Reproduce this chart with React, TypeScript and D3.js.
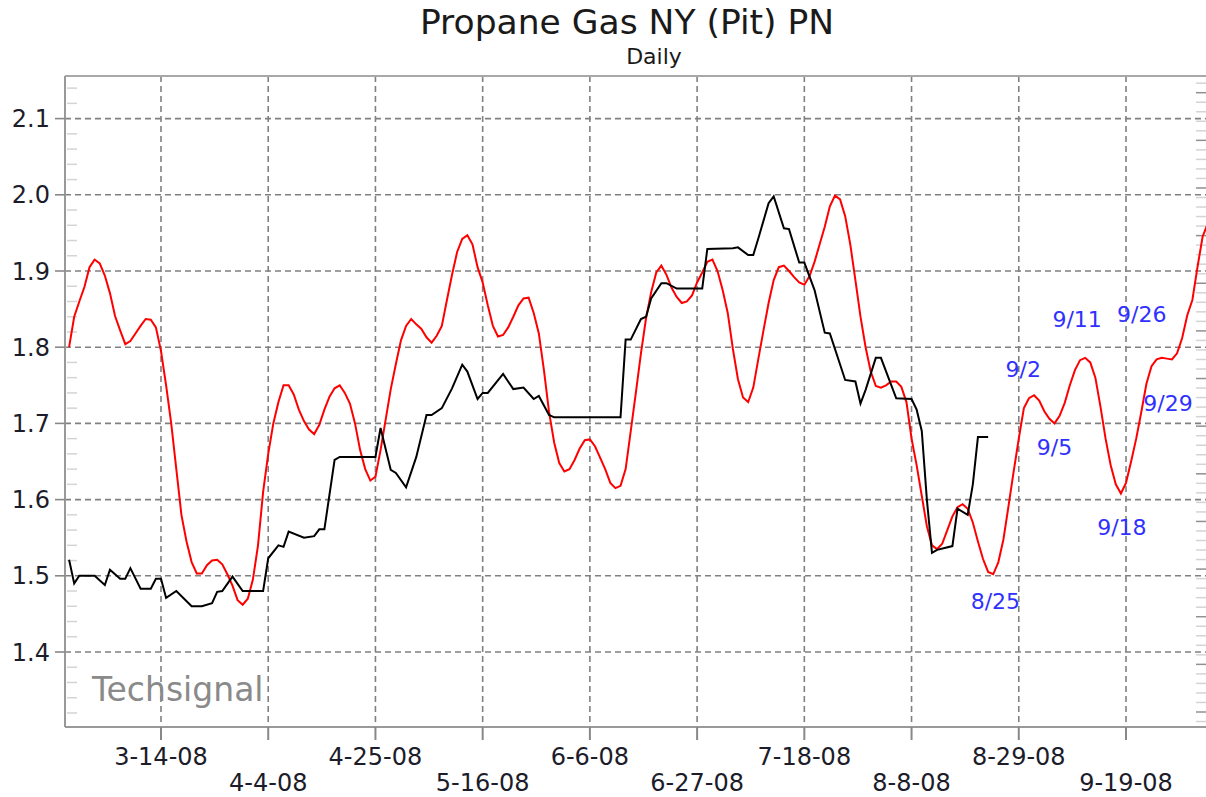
import React, { useEffect, useRef } from "react";
import * as d3 from "d3";

const chartTitle = "Propane Gas NY (Pit) PN";
const chartSubtitle = "Daily";
const watermark = "Techsignal";

// x-axis tick dates (every 3 weeks)
const xTickDates = [
  "2008-03-14", "2008-04-04", "2008-04-25", "2008-05-16", "2008-06-06",
  "2008-06-27", "2008-07-18", "2008-08-08", "2008-08-29", "2008-09-19",
];
const yTicks = [1.4, 1.5, 1.6, 1.7, 1.8, 1.9, 2.0, 2.1];

// black: actual daily price (vertices)
const priceDates = [
  "2008-02-25", "2008-02-26", "2008-02-27", "2008-03-01", "2008-03-03", "2008-03-04",
  "2008-03-06", "2008-03-07", "2008-03-08", "2008-03-10", "2008-03-12", "2008-03-13",
  "2008-03-14", "2008-03-15", "2008-03-17", "2008-03-20", "2008-03-22", "2008-03-24",
  "2008-03-25", "2008-03-26", "2008-03-28", "2008-03-30", "2008-04-03", "2008-04-04",
  "2008-04-06", "2008-04-07", "2008-04-08", "2008-04-11", "2008-04-13", "2008-04-14",
  "2008-04-15", "2008-04-17", "2008-04-18", "2008-04-25", "2008-04-26", "2008-04-28",
  "2008-04-29", "2008-05-01", "2008-05-03", "2008-05-05", "2008-05-06", "2008-05-08",
  "2008-05-10", "2008-05-12", "2008-05-13", "2008-05-15", "2008-05-16", "2008-05-17",
  "2008-05-20", "2008-05-22", "2008-05-24", "2008-05-26", "2008-05-27", "2008-05-29",
  "2008-05-30", "2008-06-12", "2008-06-13", "2008-06-14", "2008-06-16", "2008-06-17",
  "2008-06-18", "2008-06-20", "2008-06-21", "2008-06-23", "2008-06-28", "2008-06-29",
  "2008-07-04", "2008-07-05", "2008-07-07", "2008-07-08", "2008-07-09", "2008-07-11",
  "2008-07-12", "2008-07-14", "2008-07-15", "2008-07-17", "2008-07-18", "2008-07-20",
  "2008-07-22", "2008-07-23", "2008-07-26", "2008-07-28", "2008-07-29", "2008-07-30",
  "2008-08-01", "2008-08-02", "2008-08-05", "2008-08-08", "2008-08-09", "2008-08-10",
  "2008-08-11", "2008-08-12", "2008-08-13", "2008-08-16", "2008-08-17", "2008-08-19",
  "2008-08-20", "2008-08-21", "2008-08-23",
];
const priceValues = [
  1.521, 1.49, 1.5, 1.5, 1.488, 1.508,
  1.496, 1.496, 1.51, 1.483, 1.483, 1.496,
  1.496, 1.471, 1.48, 1.46, 1.46, 1.464,
  1.479, 1.48, 1.499, 1.48, 1.48, 1.523,
  1.54, 1.538, 1.558, 1.55, 1.552, 1.561,
  1.561, 1.652, 1.656, 1.656, 1.694, 1.639,
  1.635, 1.616, 1.656, 1.711, 1.711, 1.72,
  1.746, 1.777, 1.768, 1.732, 1.74, 1.74,
  1.765, 1.745, 1.747, 1.732, 1.736, 1.711,
  1.708, 1.708, 1.81, 1.81, 1.837, 1.84,
  1.864, 1.884, 1.884, 1.877, 1.877, 1.929,
  1.93, 1.931, 1.921, 1.921, 1.943, 1.989,
  1.998, 1.956, 1.955, 1.911, 1.911, 1.875,
  1.819, 1.818, 1.757, 1.755, 1.726, 1.744,
  1.786, 1.786, 1.733, 1.732, 1.718, 1.69,
  1.6, 1.53, 1.534, 1.539, 1.588, 1.58,
  1.62, 1.682, 1.682,
];

// red: cycle projection, one value per calendar day from cycleStart
const cycleStart = "2008-02-25";
const cycleValues = [
  1.8, 1.84, 1.86, 1.879, 1.905, 1.915, 1.91, 1.894, 1.871, 1.841,
  1.822, 1.804, 1.808, 1.818, 1.828, 1.837, 1.836, 1.826, 1.795, 1.75,
  1.7, 1.64, 1.58, 1.545, 1.518, 1.503, 1.503, 1.514, 1.52, 1.521,
  1.515, 1.502, 1.487, 1.468, 1.462, 1.47, 1.495, 1.54, 1.61, 1.66,
  1.7, 1.728, 1.75, 1.75, 1.738, 1.718, 1.703, 1.692, 1.686, 1.698,
  1.718, 1.735, 1.746, 1.75, 1.74, 1.726, 1.7, 1.665, 1.64, 1.625,
  1.63, 1.665, 1.705, 1.745, 1.778, 1.809, 1.828, 1.837, 1.83, 1.824,
  1.813, 1.806, 1.815, 1.828, 1.862, 1.895, 1.925, 1.942, 1.947, 1.935,
  1.905, 1.885, 1.855, 1.828, 1.814, 1.816, 1.826, 1.84, 1.855, 1.864,
  1.865, 1.845, 1.818, 1.77, 1.715, 1.675, 1.648, 1.637, 1.64, 1.652,
  1.667, 1.678, 1.679, 1.67, 1.655, 1.64, 1.622, 1.615, 1.618, 1.64,
  1.69, 1.74, 1.792, 1.838, 1.872, 1.898, 1.907, 1.895, 1.878, 1.866,
  1.858, 1.86, 1.868, 1.885, 1.898, 1.912, 1.915, 1.9, 1.875, 1.845,
  1.798, 1.758, 1.734, 1.728, 1.747, 1.785, 1.822, 1.858, 1.888, 1.905,
  1.907, 1.9, 1.892, 1.885, 1.882, 1.893, 1.912, 1.935, 1.958, 1.985,
  1.999, 1.994, 1.972, 1.935, 1.888, 1.84, 1.8, 1.768, 1.749, 1.747,
  1.75, 1.755, 1.755, 1.748, 1.728, 1.68, 1.645, 1.605, 1.565, 1.54,
  1.535, 1.542, 1.56, 1.578, 1.59, 1.594, 1.588, 1.57, 1.545, 1.522,
  1.505, 1.502, 1.518, 1.548, 1.592, 1.637, 1.68, 1.72, 1.733, 1.737,
  1.73, 1.716, 1.706, 1.7, 1.71, 1.727, 1.75, 1.77, 1.783, 1.786,
  1.78, 1.76, 1.722, 1.68, 1.645, 1.62, 1.608, 1.622, 1.65, 1.68,
  1.715, 1.752, 1.775, 1.784, 1.786, 1.785, 1.784, 1.792, 1.812, 1.842,
  1.862, 1.905, 1.945, 1.962,
];

// turning-point annotations
const turnLabels = ["8/25", "9/2", "9/5", "9/11", "9/18", "9/26", "9/29"];
const turnDates = [
  "2008-08-25", "2008-09-02", "2008-09-05", "2008-09-11",
  "2008-09-18", "2008-09-26", "2008-09-29",
];

export default function App() {
  const ref = useRef<SVGSVGElement>(null);

  useEffect(() => {
    document.body.style.margin = "0";
    const svg = d3.select(ref.current);
    svg.selectAll("*").remove();

    const parse = d3.timeParse("%Y-%m-%d");
    const fmt = d3.timeFormat("%-m-%-d-%y");
    const font = "DejaVu Sans, Verdana, sans-serif";
    const plot = { left: 65, right: 1206, top: 76, bottom: 727 };

    const x = d3
      .scaleTime()
      .domain([parse("2008-03-14")!, parse("2008-09-19")!])
      .range([161, 1126]);
    const y = d3.scaleLinear().domain([1.4, 2.1]).range([652, 118.6]);
    // unlabeled secondary scale on the right edge
    const yRight = d3.scaleLinear().domain([0, 13]).range([712, 92.7]);

    const price = priceDates.map((d, i) => ({ date: parse(d)!, value: priceValues[i] }));
    const start = parse(cycleStart)!;
    const cycle = cycleValues.map((v, i) => ({ date: d3.timeDay.offset(start, i), value: v }));
    const ticks = xTickDates.map((d) => parse(d)!);

    const grid = "#808080";

    svg
      .append("clipPath")
      .attr("id", "plot-clip")
      .append("rect")
      .attr("x", plot.left)
      .attr("y", plot.top)
      .attr("width", plot.right - plot.left)
      .attr("height", plot.bottom - plot.top);

    // minor ticks on left (inside)
    const minor = d3.range(1.3, 2.16, 0.02).filter((v) => Math.abs(v * 10 - Math.round(v * 10)) > 0.01);
    svg
      .append("g")
      .selectAll("line")
      .data(minor.filter((v) => y(v) > plot.top + 2 && y(v) < plot.bottom - 2))
      .join("line")
      .attr("x1", plot.left + 2)
      .attr("x2", plot.left + 12)
      .attr("y1", (d) => y(d))
      .attr("y2", (d) => y(d))
      .attr("stroke", "#d4d4d4")
      .attr("stroke-width", 1.5);

    // right edge ticks
    const rMinor = d3.range(-0.2, 13.4, 0.2).filter((v) => yRight(v) > plot.top + 2 && yRight(v) < plot.bottom - 2);
    svg
      .append("g")
      .selectAll("line")
      .data(rMinor)
      .join("line")
      .attr("x1", plot.right - 10)
      .attr("x2", plot.right)
      .attr("y1", (d) => yRight(d))
      .attr("y2", (d) => yRight(d))
      .attr("stroke", (d) => (Math.abs(d - Math.round(d)) < 0.01 ? "#909090" : "#d4d4d4"))
      .attr("stroke-width", 1.5);

    // horizontal gridlines
    svg
      .append("g")
      .selectAll("line")
      .data(yTicks)
      .join("line")
      .attr("x1", plot.left)
      .attr("x2", plot.right)
      .attr("y1", (d) => y(d))
      .attr("y2", (d) => y(d))
      .attr("stroke", grid)
      .attr("stroke-width", 1.6)
      .attr("stroke-dasharray", "6,4");

    // vertical gridlines
    svg
      .append("g")
      .selectAll("line")
      .data(ticks)
      .join("line")
      .attr("x1", (d) => x(d))
      .attr("x2", (d) => x(d))
      .attr("y1", plot.top)
      .attr("y2", plot.bottom)
      .attr("stroke", grid)
      .attr("stroke-width", 1.6)
      .attr("stroke-dasharray", "6,4");

    // frame
    svg.append("line").attr("x1", plot.left).attr("x2", plot.right).attr("y1", plot.top).attr("y2", plot.top)
      .attr("stroke", "#a8a8a8").attr("stroke-width", 2);
    svg.append("line").attr("x1", plot.left).attr("x2", plot.left).attr("y1", plot.top).attr("y2", plot.bottom)
      .attr("stroke", "#999").attr("stroke-width", 2);
    svg.append("line").attr("x1", plot.left).attr("x2", plot.right).attr("y1", plot.bottom).attr("y2", plot.bottom)
      .attr("stroke", "#999").attr("stroke-width", 2);

    // y tick marks + labels
    const yAxisG = svg.append("g");
    yAxisG
      .selectAll("line")
      .data(yTicks)
      .join("line")
      .attr("x1", plot.left - 10)
      .attr("x2", plot.left)
      .attr("y1", (d) => y(d))
      .attr("y2", (d) => y(d))
      .attr("stroke", "#888")
      .attr("stroke-width", 1.6);
    yAxisG
      .selectAll("text")
      .data(yTicks)
      .join("text")
      .attr("x", 50)
      .attr("y", (d) => y(d))
      .attr("dy", "0.36em")
      .attr("text-anchor", "end")
      .attr("font-family", font)
      .attr("font-size", 24)
      .attr("fill", "#1c1c2a")
      .text((d) => d3.format(".1f")(d));

    // x tick marks + labels
    const xAxisG = svg.append("g");
    xAxisG
      .selectAll("line")
      .data(ticks)
      .join("line")
      .attr("x1", (d) => x(d))
      .attr("x2", (d) => x(d))
      .attr("y1", plot.bottom)
      .attr("y2", plot.bottom + 13)
      .attr("stroke", "#888")
      .attr("stroke-width", 2);
    xAxisG
      .selectAll("text")
      .data(ticks)
      .join("text")
      .attr("x", (d) => x(d))
      .attr("y", (d, i) => (i % 2 === 0 ? 765 : 791))
      .attr("text-anchor", "middle")
      .attr("font-family", font)
      .attr("font-size", 24)
      .attr("fill", "#1c1c2a")
      .text((d) => fmt(d));

    // watermark
    svg
      .append("text")
      .attr("x", 92)
      .attr("y", 701)
      .attr("font-family", font)
      .attr("font-size", 33)
      .attr("fill", "#8a8a8a")
      .text(watermark);

    // series
    const line = d3
      .line<{ date: Date; value: number }>()
      .x((d) => x(d.date))
      .y((d) => y(d.value));
    const series = svg.append("g").attr("clip-path", "url(#plot-clip)");
    series
      .append("path")
      .datum(cycle)
      .attr("d", line)
      .attr("fill", "none")
      .attr("stroke", "#ff0000")
      .attr("stroke-width", 2);
    series
      .append("path")
      .datum(price)
      .attr("d", line)
      .attr("fill", "none")
      .attr("stroke", "#000")
      .attr("stroke-width", 2);

    // annotation labels, offset from the red curve at their date
    const labelOffsets = [
      [-3, 39], [-16, -31], [0, 24], [-8, -39], [1, 34], [-20, -44], [-9, 50],
    ];
    const cycleAt = (dt: Date) => {
      const i = Math.round(d3.timeDay.count(start, dt));
      return cycleValues[Math.max(0, Math.min(cycleValues.length - 1, i))];
    };
    svg
      .append("g")
      .selectAll("text")
      .data(turnLabels)
      .join("text")
      .attr("x", (d, i) => x(parse(turnDates[i])!) + labelOffsets[i][0])
      .attr("y", (d, i) => y(cycleAt(parse(turnDates[i])!)) + labelOffsets[i][1])
      .attr("dy", "0.36em")
      .attr("text-anchor", "middle")
      .attr("font-family", font)
      .attr("font-size", 22)
      .attr("fill", "#3030ff")
      .text((d) => d);

    // titles
    svg
      .append("text")
      .attr("x", 627)
      .attr("y", 34)
      .attr("text-anchor", "middle")
      .attr("font-family", font)
      .attr("font-size", 34.5)
      .attr("fill", "#1a1a1a")
      .text(chartTitle);
    svg
      .append("text")
      .attr("x", 654)
      .attr("y", 64)
      .attr("text-anchor", "middle")
      .attr("font-family", font)
      .attr("font-size", 22)
      .attr("fill", "#1a1a1a")
      .text(chartSubtitle);
  }, []);

  return <svg ref={ref} width={1206} height={797} style={{ display: "block", background: "#fff" }} />;
}
